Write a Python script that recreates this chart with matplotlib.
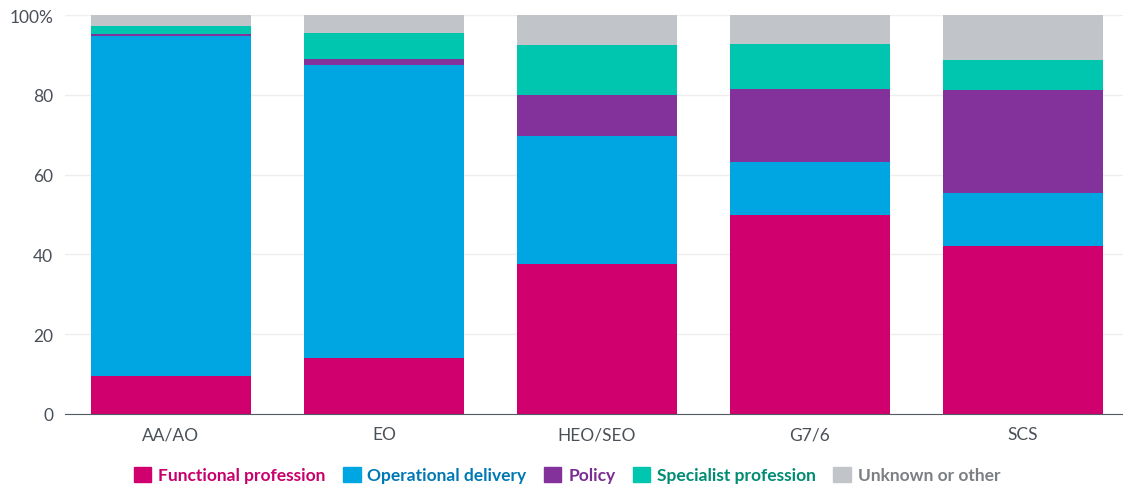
import numpy as np
import matplotlib.pyplot as plt

# Values (percent of each grade)
grades = ['AA/AO', 'EO', 'HEO/SEO', 'G7/6', 'SCS']
functional = [9.5, 14.0, 37.6, 50.0, 42.1]
operational = [85.2, 73.5, 32.1, 13.2, 13.3]
policy = [0.6, 1.5, 10.3, 18.3, 25.8]
specialist = [2.0, 6.5, 12.5, 11.2, 7.5]
unknown = [100 - a - b - c - d for a, b, c, d in zip(functional, operational, policy, specialist)]

series = [
    ('Functional profession', functional, '#D0006F', '#C8006C'),
    ('Operational delivery', operational, '#00A6E1', '#0078B4'),
    ('Policy', policy, '#84329B', '#7B2D93'),
    ('Specialist profession', specialist, '#00C6B0', '#008C73'),
    ('Unknown or other', unknown, '#C1C4C8', '#7B7E82'),
]

plt.rcParams['font.family'] = ['Lato', 'DejaVu Sans']

fig = plt.figure(figsize=(11.23, 4.85), dpi=100)
ax = fig.add_axes([64.5 / 1123, 70 / 485, 1065 / 1123, 399 / 485])

x = np.arange(len(grades))
bottom = np.zeros(len(grades))
for name, vals, col, _ in series:
    ax.bar(x, vals, width=0.75, bottom=bottom, color=col, zorder=2)
    bottom += np.array(vals)

ax.set_xlim(-0.5, len(grades) - 0.5)
ax.set_ylim(0, 100)
ax.set_yticks([0, 20, 40, 60, 80, 100])
ax.set_yticklabels(['0', '20', '40', '60', '80', '100%'])
ax.set_xticks(x)
ax.set_xticklabels(grades)
ax.grid(axis='y', color='#EEEEEE', linewidth=1, zorder=0)
for s in ['top', 'right', 'left']:
    ax.spines[s].set_visible(False)
ax.spines['bottom'].set_color('#555B62')
ax.spines['bottom'].set_zorder(3)
ax.tick_params(axis='y', length=0, pad=8, labelsize=12.5, labelcolor='#4A5058')
ax.tick_params(axis='x', length=0, pad=9, labelsize=12.5, labelcolor='#4A5058')

# Legend drawn as coloured squares with coloured bold text
handles = [plt.Rectangle((0, 0), 1, 1, color=c) for _, _, c, _ in series]
leg = fig.legend(handles, [s[0] for s in series], loc='center', bbox_to_anchor=(0.505, 9 / 485),
                 ncol=5, frameon=False, handlelength=1.0, handleheight=1.0, handletextpad=0.4,
                 columnspacing=1.0, prop={'weight': 'bold', 'size': 12.5})
for txt, (_, _, _, tc) in zip(leg.get_texts(), series):
    txt.set_color(tc)

fig.savefig('out.png', dpi=100)
